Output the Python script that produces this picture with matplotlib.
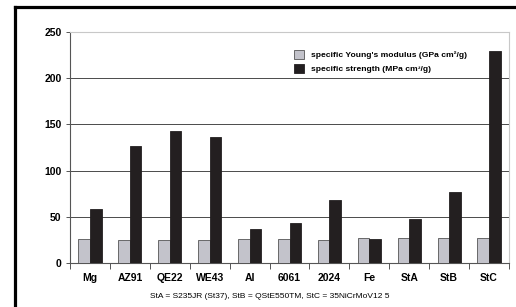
import numpy as np
import matplotlib.pyplot as plt
from matplotlib.lines import Line2D

plt.rcParams['font.family'] = ['Liberation Sans', 'DejaVu Sans']

materials = ["Mg", "AZ91", "QE22", "WE43", "Al", "6061", "2024", "Fe", "StA", "StB", "StC"]
young = [25.6, 25.2, 25.0, 24.5, 25.6, 25.6, 25.0, 27.4, 27.4, 27.4, 27.4]
strength = [58, 127, 143, 136, 37, 43, 68, 26, 48, 77, 229]

fig = plt.figure(figsize=(5.16, 3.07), dpi=100)
ax = fig.add_axes([70 / 516, 1 - 263 / 307, 439 / 516, 231 / 307])

x = np.arange(len(materials))
w = 0.29
ax.bar(x - w / 2, young, w, color="#c3c3cb", edgecolor="#555555", linewidth=0.6,
       label="specific Young's modulus (GPa cm\u00b2/g)", zorder=3)
ax.bar(x + w / 2, strength, w, color="#231f20", edgecolor="#231f20", linewidth=0.6,
       label="specific strength (MPa cm\u00b3/g)", zorder=3)

ax.set_xlim(-0.5, len(materials) - 0.5)
ax.set_ylim(0, 250)
ax.set_yticks([0, 50, 100, 150, 200, 250])
ax.set_xticks(x)
ax.set_xticklabels(materials, fontsize=7.5, fontweight="bold")
ax.set_xticks(np.arange(-0.5, len(materials)), minor=True)
ax.tick_params(axis="x", which="major", length=0, pad=7)
ax.tick_params(axis="x", which="minor", length=4, width=0.7, color="#555555", direction="out")
ax.tick_params(axis="y", length=3, width=0.7, color="#555555", labelsize=7.5, pad=3)
for t in ax.get_yticklabels():
    t.set_fontweight("bold")

for yv in [50, 100, 150, 200]:
    ax.axhline(yv, color="#4a4a4a", linewidth=0.7, zorder=1)

ax.spines["left"].set_color("#555555")
ax.spines["bottom"].set_color("#555555")
ax.spines["left"].set_linewidth(0.8)
ax.spines["bottom"].set_linewidth(0.8)
ax.spines["top"].set_color("#c8c8c8")
ax.spines["right"].set_color("#c8c8c8")

leg = ax.legend(loc="upper left", bbox_to_anchor=(220 / 439, 0.94), frameon=False,
                prop={"size": 6.1, "weight": "bold"}, handlelength=1.2, handleheight=1.2,
                handletextpad=0.8, labelspacing=0.55, borderpad=0)

fig.text(270 / 516, 1 - 297 / 307, "StA = S235JR (St37), StB = QStE550TM, StC = 35NiCrMoV12 5",
         ha="center", va="center", fontsize=6)

# thick frame on the left and top
fig.add_artist(Line2D([14.5 / 516, 14.5 / 516], [0, 1 - 7 / 307], color="black", linewidth=2.3,
                      transform=fig.transFigure, solid_capstyle="projecting"))
fig.add_artist(Line2D([14.5 / 516, 1], [1 - 7 / 307, 1 - 7 / 307], color="black", linewidth=2.3,
                      transform=fig.transFigure, solid_capstyle="projecting"))

fig.savefig("out.png", dpi=100)
